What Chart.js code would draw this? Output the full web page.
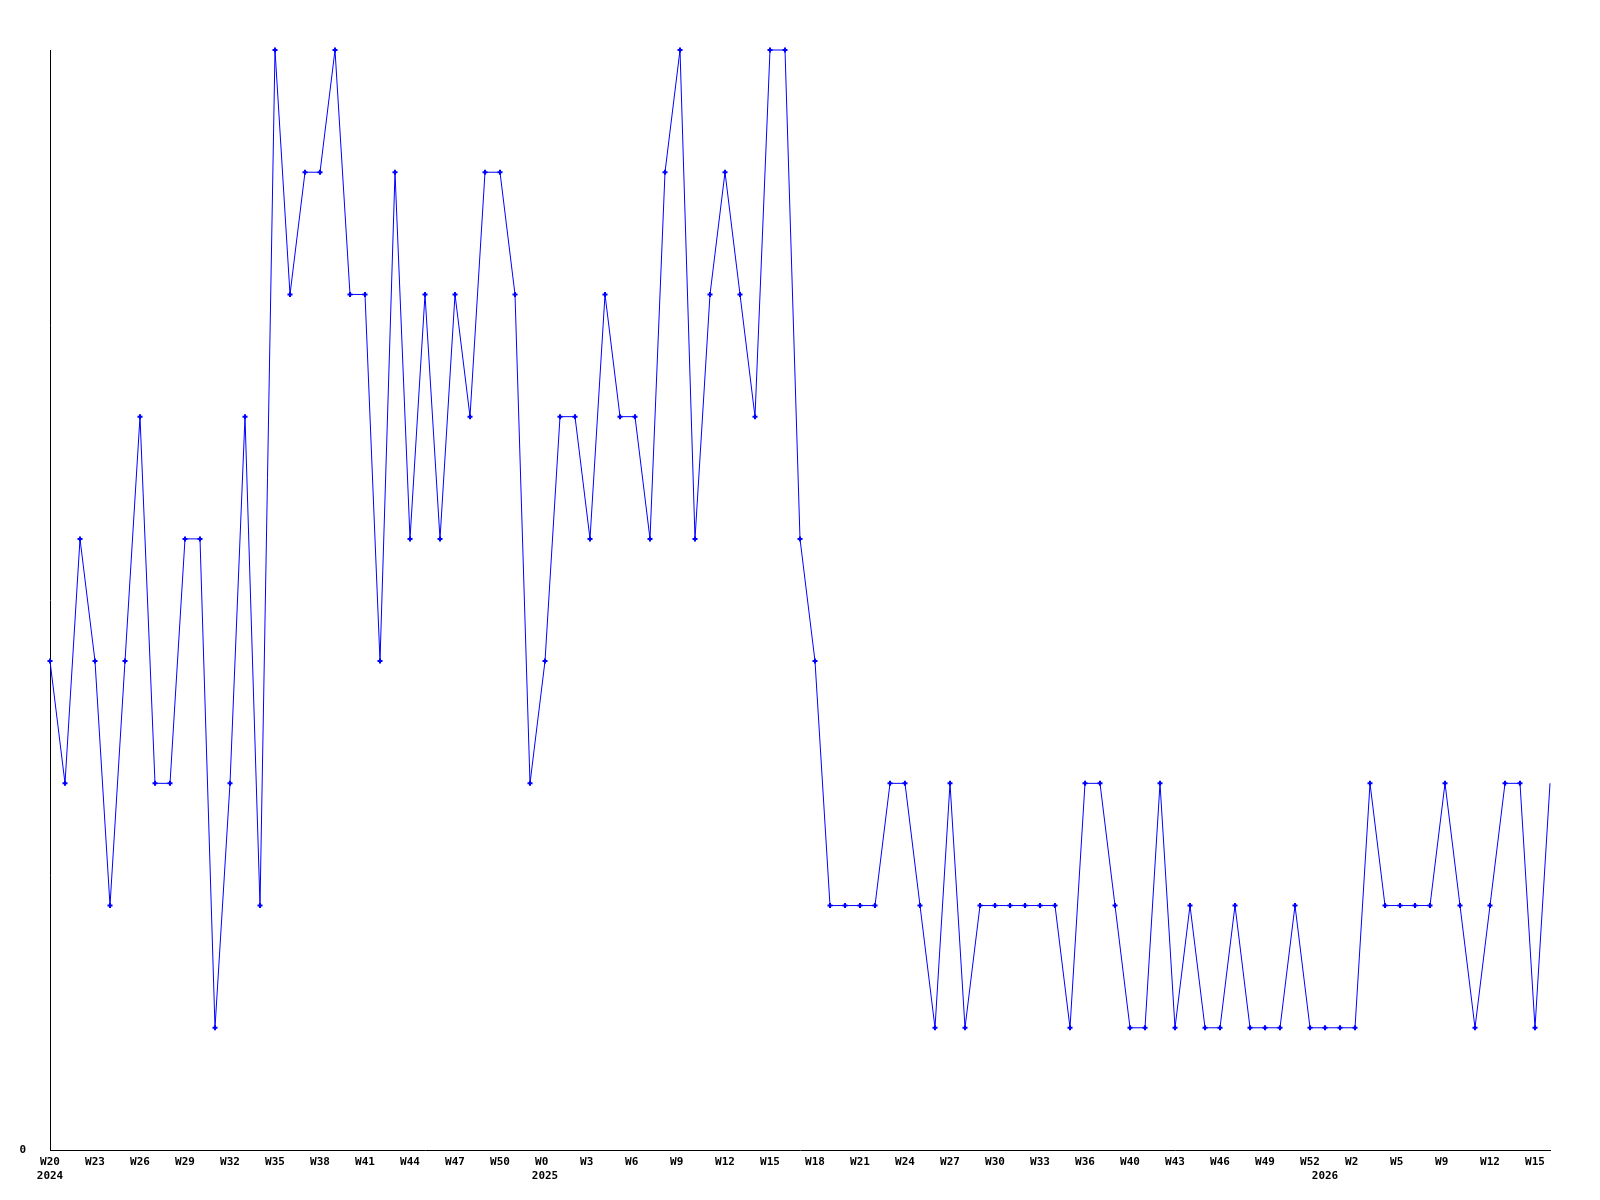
<!DOCTYPE html>
<html>
<head>
<meta charset="utf-8">
<script src="https://cdn.jsdelivr.net/npm/chart.js@4/dist/chart.umd.min.js"></script>
<style>
    body { margin: 0; background: #ffffff; }
    #wrap { width: 1600px; height: 1200px; }
</style>
</head>
<body>
<div id="wrap"><canvas id="weeklyChart" width="1600" height="1200"></canvas></div>
<script>
// week labels, one per point (only every 3rd is shown)
const weeks = [
    'W20','W21','W22','W23','W24','W25','W26','W27','W28','W29',
    'W30','W31','W32','W33','W34','W35','W36','W37','W38','W39',
    'W40','W41','W42','W43','W44','W45','W46','W47','W48','W49',
    'W50','W51','W52','W0','W1','W2','W3','W4','W5','W6',
    'W7','W8','W9','W10','W11','W12','W13','W14','W15','W16',
    'W17','W18','W19','W20','W21','W22','W23','W24','W25','W26',
    'W27','W28','W29','W30','W31','W32','W33','W34','W35','W36',
    'W37','W38','W40','W41','W42','W43','W44','W45','W46','W47',
    'W48','W49','W50','W51','W52','W0','W1','W2','W3','W4',
    'W5','W6','W7','W9','W10','W11','W12','W13','W14','W15',
    'W16'
];

// first week of each year
const years = ['2024', '2025', '2026'];
const yearStart = [0, 33, 85];

const counts = [
    4, 3, 5, 4, 2, 4, 6, 3, 3, 5,
    5, 1, 3, 6, 2, 9, 7, 8, 8, 9,
    7, 7, 4, 8, 5, 7, 5, 7, 6, 8,
    8, 7, 3, 4, 6, 6, 5, 7, 6, 6,
    5, 8, 9, 5, 7, 8, 7, 6, 9, 9,
    5, 4, 2, 2, 2, 2, 3, 3, 2, 1,
    3, 1, 2, 2, 2, 2, 2, 2, 1, 3,
    3, 2, 1, 1, 3, 1, 2, 1, 1, 2,
    1, 1, 1, 2, 1, 1, 1, 1, 3, 2,
    2, 2, 2, 3, 2, 1, 2, 3, 3, 1,
    3
];

const yMin = 0;
const yMax = 9;
const yTickLabels = ['0'];
const labelStep = 3;

function tickText(i) {
    let week = '';
    if (i % labelStep === 0) {
        week = weeks[i];
        // pad so short labels start where the long ones do
        while (week.length < 3) week += ' ';
    }
    const y = yearStart.indexOf(i);
    if (y >= 0) return [week, years[y]];
    return week;
}

const tickFont = { family: '"DejaVu Sans Mono", monospace', size: 11, weight: 'bold', lineHeight: 1.3 };

const ctx = document.getElementById('weeklyChart').getContext('2d');
const weeklyChart = new Chart(ctx, {
    type: 'line',
    data: {
        labels: weeks,
        datasets: [{
            data: counts,
            borderColor: '#0000ff',
            backgroundColor: '#0000ff',
            borderWidth: 1,
            tension: 0,
            pointStyle: 'cross',
            pointRadius: c => c.dataIndex === counts.length - 1 ? 0 : 2.5,
            pointBorderWidth: 2,
            pointBorderColor: '#0000ff',
            clip: 4
        }]
    },
    options: {
        responsive: false,
        animation: false,
        devicePixelRatio: 1,
        layout: { padding: { top: 50, right: 50, left: 0, bottom: 0 } },
        plugins: {
            legend: { display: false },
            tooltip: { enabled: false }
        },
        scales: {
            x: {
                offset: false,
                grid: { display: false, drawTicks: false },
                border: { display: true, color: '#000000', width: 1 },
                ticks: {
                    autoSkip: false,
                    maxRotation: 0,
                    minRotation: 0,
                    padding: 5,
                    color: '#000000',
                    font: tickFont,
                    callback: (value, i) => tickText(i)
                },
                afterFit: scale => { scale.height = 50; }
            },
            y: {
                min: yMin,
                max: yMax,
                grid: { display: false, drawTicks: false },
                border: { display: true, color: '#000000', width: 1 },
                ticks: {
                    stepSize: 1,
                    padding: 24,
                    color: '#000000',
                    font: tickFont,
                    callback: value => value === yMin ? yTickLabels[0] : ''
                },
                afterFit: scale => { scale.width = 50; }
            }
        }
    }
});
</script>
</body>
</html>
